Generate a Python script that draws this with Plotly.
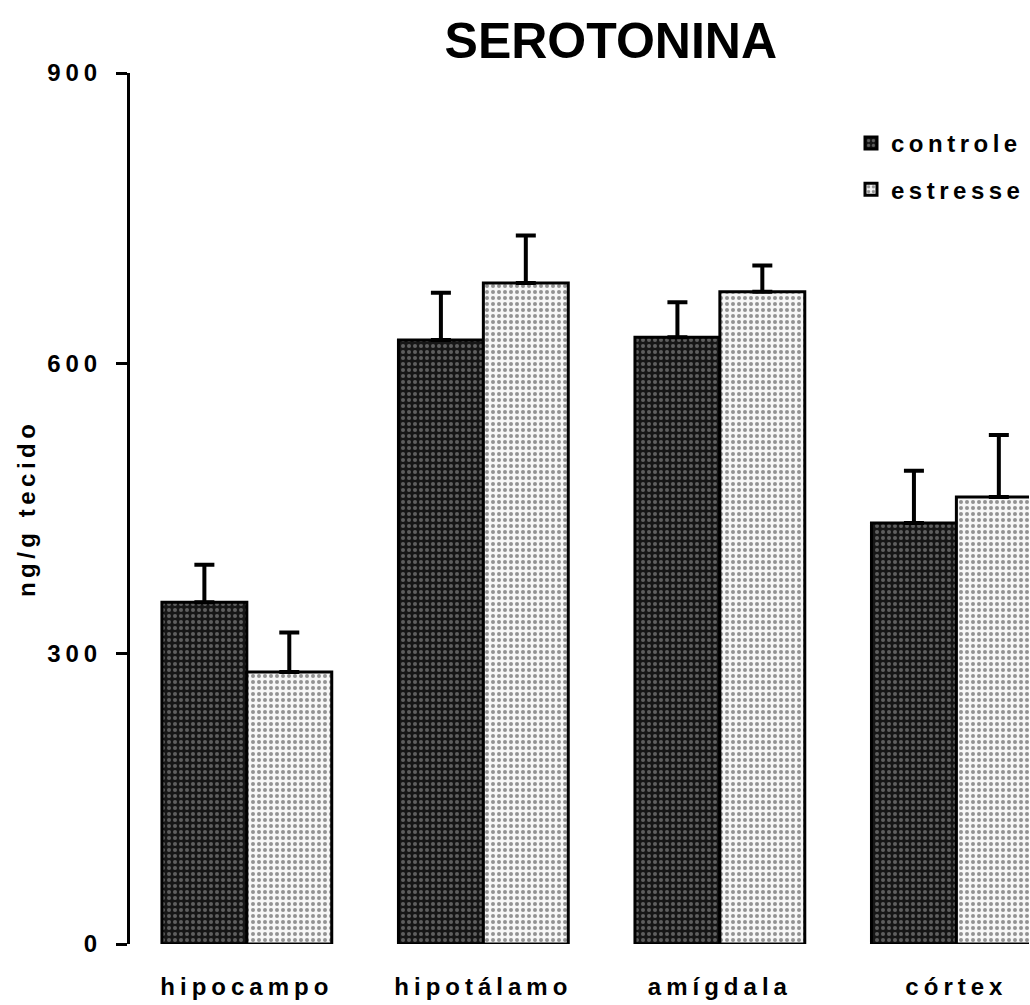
import plotly.graph_objects as go

categories = ["hipocampo", "hipotálamo", "amígdala", "córtex"]
controle = [353, 624, 627, 435]
controle_err = [39, 49, 36, 54]
estresse = [281, 683, 674, 462]
estresse_err = [41, 49, 27, 64]
y_ticks = [0, 300, 600, 900]

FONT = "Liberation Sans, Arial, sans-serif"
LS = "letter-spacing:5px"


def spaced(t, ls=LS):
    return f'<span style="{ls}">{t}</span>'


fig = go.Figure()
fig.add_trace(go.Bar(
    name=spaced("controle", "letter-spacing:4.5px"),
    x=categories, y=controle,
    legendgroup="c",
    marker=dict(color="#2a2a2a", line=dict(color="black", width=3),
                pattern=dict(shape=".", bgcolor="#161616", fgcolor="#a8a8a8",
                             size=6, solidity=0.35)),
    error_y=dict(type="data", array=controle_err,
                 arrayminus=[0] * len(controle_err), symmetric=False,
                 color="black", thickness=4, width=10),
))
fig.add_trace(go.Bar(
    name=spaced("estresse", "letter-spacing:4.5px"),
    x=categories, y=estresse,
    legendgroup="e",
    marker=dict(color="#c8c8c8", line=dict(color="black", width=3),
                pattern=dict(shape=".", bgcolor="#f6f6f6", fgcolor="#2e2e2e",
                             size=6, solidity=0.35)),
    error_y=dict(type="data", array=estresse_err,
                 arrayminus=[0] * len(estresse_err), symmetric=False,
                 color="black", thickness=4, width=10),
))

fig.update_layout(
    width=1030, height=1005,
    margin=dict(l=130, r=0, t=73, b=61),
    paper_bgcolor="white", plot_bgcolor="white",
    barmode="group", bargap=0.282, bargroupgap=0,
    font=dict(family=FONT, color="black", size=24, weight="bold"),
    title=dict(text="SEROTONINA", x=0.593, xanchor="center",
               y=1 - 40 / 1005, yanchor="middle",
               font=dict(family=FONT, size=50, weight="bold", color="black")),
    showlegend=True,
    legend=dict(x=0.802, xanchor="left", y=0.945, yanchor="top",
                traceorder="grouped", tracegroupgap=12,
                bgcolor="rgba(0,0,0,0)",
                font=dict(family=FONT, size=24, weight="bold", color="black")),
    xaxis=dict(range=[-0.494, 3.307], showline=False, ticks="",
               showgrid=False, zeroline=False,
               tickmode="array", tickvals=categories,
               ticktext=[spaced(c) for c in categories],
               ticklabelstandoff=26,
               tickfont=dict(family=FONT, size=24, weight="bold")),
    yaxis=dict(range=[0, 900], showline=True, linecolor="black", linewidth=3,
               ticks="outside", ticklen=11, tickwidth=3, tickcolor="black",
               showgrid=False, zeroline=False,
               tickmode="array", tickvals=y_ticks,
               ticktext=[spaced(str(v)) for v in y_ticks],
               ticklabelstandoff=9,
               tickfont=dict(family=FONT, size=24, weight="bold")),
    annotations=[dict(text=spaced("ng/g tecido", "letter-spacing:4.5px"),
                      xref="paper", yref="paper",
                      x=(27 - 130) / 900, y=(944 - 508) / 871,
                      xanchor="center", yanchor="middle", textangle=-90,
                      showarrow=False,
                      font=dict(family=FONT, size=24, weight="bold",
                                color="black"))],
)

fig.write_html(
    "out.html",
    config={"displayModeBar": False},
    post_script="document.body.style.margin='0';document.body.style.overflow='hidden';",
)
